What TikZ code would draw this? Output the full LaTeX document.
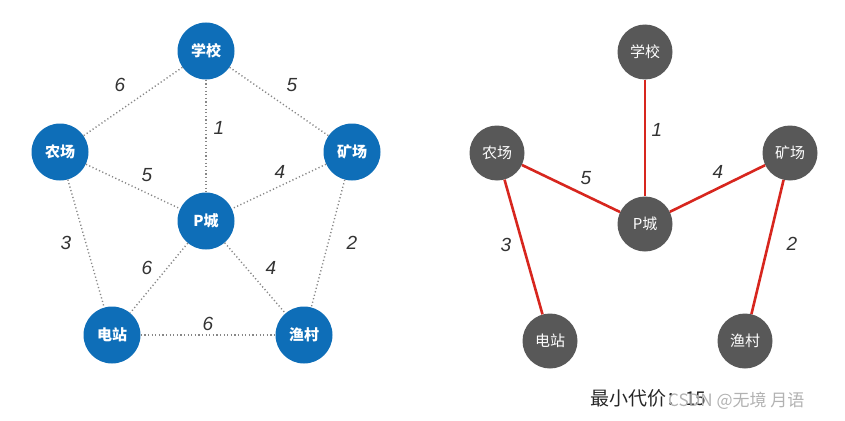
\documentclass[tikz,border=0pt]{standalone}
\usepackage{fontspec}
\setmainfont{Liberation Sans}
\newfontfamily\cjk{Noto Sans CJK SC}
\definecolor{nodeblue}{RGB}{14,110,184}
\definecolor{nodegray}{RGB}{88,88,88}
\definecolor{edgered}{RGB}{215,38,30}
\definecolor{dotgray}{RGB}{135,135,135}
\tikzset{
  bnode/.style={circle,fill=nodeblue,minimum size=57pt,inner sep=0pt,text=white,font=\cjk\bfseries\fontsize{15}{15}\selectfont},
  gnode/.style={circle,fill=nodegray,minimum size=55pt,inner sep=0pt,text=white,font=\cjk\fontsize{15}{15}\selectfont},
  dotedge/.style={draw=dotgray,line width=1.4pt,dash pattern=on 1.2pt off 2.4pt},
  redge/.style={draw=edgered,line width=2.6pt},
  wlabel/.style={font=\itshape\fontsize{19}{19}\selectfont,text=black!80},
}
\begin{document}
\begin{tikzpicture}[x=1pt,y=-1pt]
\path[use as bounding box] (0,0) rectangle (845,420);
% left graph nodes
\node[bnode] (s1) at (206,51) {学校};
\node[bnode] (f1) at (60,152) {农场};
\node[bnode] (m1) at (352,152) {矿场};
\node[bnode] (p1) at (206,221) {P城};
\node[bnode] (d1) at (112,335) {电站};
\node[bnode] (y1) at (304,335) {渔村};
% left edges
\draw[dotedge] (s1) -- (f1);
\draw[dotedge] (s1) -- (m1);
\draw[dotedge] (s1) -- (p1);
\draw[dotedge] (f1) -- (p1);
\draw[dotedge] (m1) -- (p1);
\draw[dotedge] (f1) -- (d1);
\draw[dotedge] (m1) -- (y1);
\draw[dotedge] (p1) -- (d1);
\draw[dotedge] (p1) -- (y1);
\draw[dotedge] (d1) -- (y1);
% left labels
\node[wlabel] (l1) at (120,85) {6};
\node[wlabel] (l2) at (292,85) {5};
\node[wlabel] (l3) at (219,128) {1};
\node[wlabel] (l4) at (147,175) {5};
\node[wlabel] (l5) at (280,172) {4};
\node[wlabel] (l6) at (66,243) {3};
\node[wlabel] (l7) at (352,243) {2};
\node[wlabel] (l8) at (147,268) {6};
\node[wlabel] (l9) at (271,268) {4};
\node[wlabel] (l10) at (208,324) {6};
% right graph nodes
\node[gnode] (s2) at (645,52) {学校};
\node[gnode] (f2) at (497,153) {农场};
\node[gnode] (m2) at (790,153) {矿场};
\node[gnode] (p2) at (645,224) {P城};
\node[gnode] (d2) at (550,341) {电站};
\node[gnode] (y2) at (745,341) {渔村};
% right edges
\draw[redge] (s2) -- (p2);
\draw[redge] (f2) -- (p2);
\draw[redge] (m2) -- (p2);
\draw[redge] (f2) -- (d2);
\draw[redge] (m2) -- (y2);
% right labels
\node[wlabel] (r1) at (657,130) {1};
\node[wlabel] (r2) at (586,178) {5};
\node[wlabel] (r3) at (718,172) {4};
\node[wlabel] (r4) at (506,245) {3};
\node[wlabel] (r5) at (792,244) {2};
% cost text and watermark
\node[anchor=west,font=\cjk\fontsize{19}{19}\selectfont,text=black!85,inner sep=0pt] (cost) at (590,398) {最小代价：15};
\node[anchor=west,font=\cjk\fontsize{17}{17}\selectfont,text=black!30,inner sep=0pt] (wm) at (668,401) {CSDN @无境 月语};
\end{tikzpicture}
\end{document}
